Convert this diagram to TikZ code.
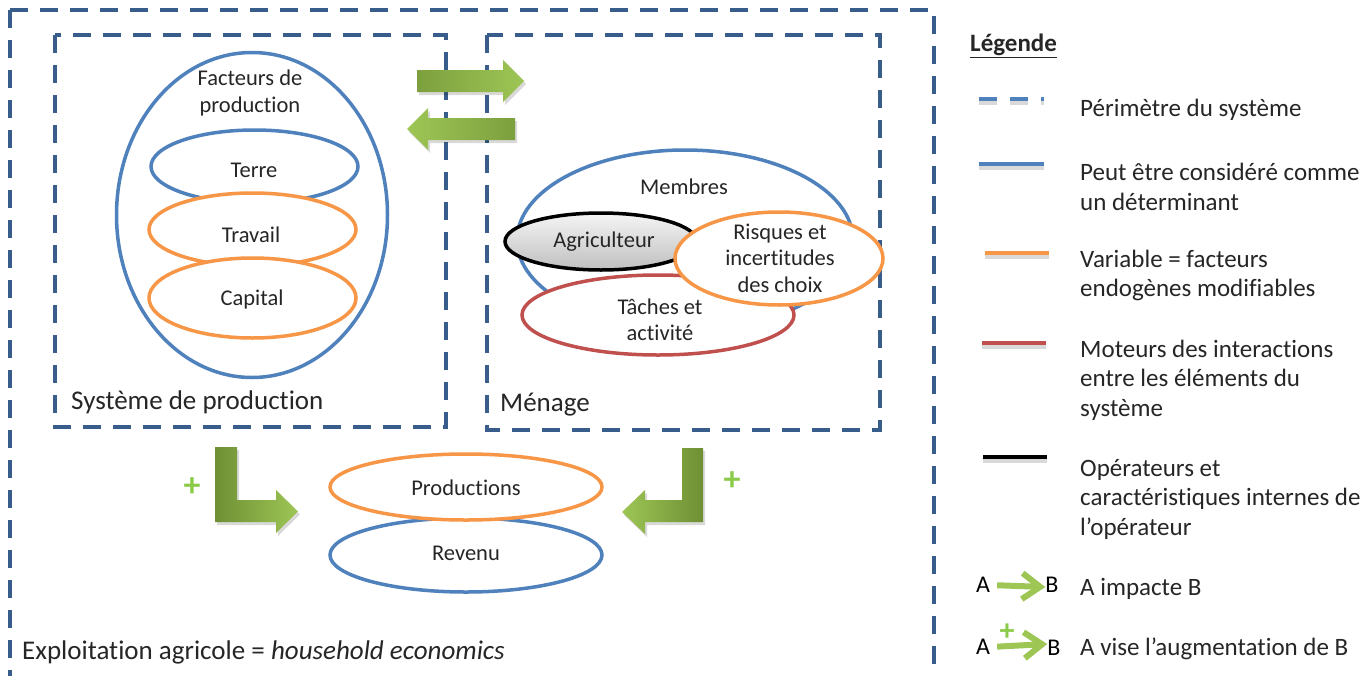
\documentclass[tikz,border=0pt]{standalone}
\usepackage{fontspec}
\setmainfont{Carlito}[Ligatures={NoCommon,NoRare}]
\usetikzlibrary{shapes.geometric,arrows.meta}
\definecolor{boxblue}{HTML}{385D8A}
\definecolor{elblue}{HTML}{4F81BD}
\definecolor{elorange}{HTML}{F79646}
\definecolor{elred}{HTML}{C0504D}
\definecolor{gdark}{HTML}{6F8F34}
\definecolor{glight}{HTML}{9DC655}
\definecolor{gmid}{HTML}{8DB447}
\definecolor{plusgreen}{HTML}{8CCB4A}
\definecolor{txt}{HTML}{262626}
\begin{document}
\begin{tikzpicture}[x=1pt,y=-1pt,
  perim/.style={draw=boxblue, line width=4, dash pattern=on 18pt off 12pt},
  ell/.style={ellipse, line width=3.5, inner sep=0, fill=white},
  blueell/.style={ell, draw=elblue},
  orangeell/.style={ell, draw=elorange},
  redell/.style={ell, draw=elred},
  blackell/.style={ell, draw=black, top color=gray!8, bottom color=gray!50},
  lbl/.style={font=\fontsize{22.5}{26.5}\selectfont, text=txt, align=center, inner sep=0},
  boxlbl/.style={font=\fontsize{27}{32}\selectfont, text=txt, anchor=west, inner sep=0},
  legtxt/.style={font=\fontsize{25}{29.5}\selectfont, text=txt, align=left, anchor=west, inner sep=0},
  legline/.style={line width=4},
  legshadow/.style={line width=4, draw=black, opacity=0.15},
  shadowfill/.style={fill=black, opacity=0.15},
  plussign/.style={font=\fontsize{34}{34}\selectfont\bfseries, text=plusgreen, inner sep=0},
  legarr/.style={draw=glight, line width=6, -{Straight Barb[length=18pt,width=26pt]}},
  letter/.style={font=\fontsize{24}{24}\selectfont, text=black, inner sep=0},
]
\clip (0,0) rectangle (1371,675);
\fill[white] (0,0) rectangle (1371,675);

% perimeters
\draw[perim] (10,10) rectangle (934,700);
\draw[perim] (55,35) rectangle (446,427);
\draw[perim] (487,35) rectangle (880,430);

% production system
\node[blueell, minimum width=271, minimum height=325] (fact) at (252,215) {};
\node[blueell, minimum width=207, minimum height=73] (terre) at (254.5,166.5) {};
\node[orangeell, minimum width=207, minimum height=73] (travail) at (252.5,229.5) {};
\node[orangeell, minimum width=207, minimum height=80] (capital) at (252.5,298) {};
\node[lbl] (tfact) at (250,93) {Facteurs de\\production};
\node[lbl] (tterre) at (254,170) {Terre};
\node[lbl] (ttravail) at (251,235) {Travail};
\node[lbl] (tcapital) at (252,299) {Capital};
\node[boxlbl] (tsys) at (71,402) {Système de production};

% household
\node[blueell, minimum width=336, minimum height=180] (membres) at (685,240) {};
\node[redell, minimum width=272, minimum height=80] (taches) at (658,315) {};
\node[blackell, minimum width=192, minimum height=57] (agri) at (601,241.5) {};
\node[orangeell, minimum width=208, minimum height=93] (risques) at (779,258.5) {};
\node[lbl] (tmembres) at (684,187) {Membres};
\node[lbl] (tagri) at (604,242) {Agriculteur};
\node[lbl] (trisques) at (780,258) {Risques et\\incertitudes\\des choix};
\node[lbl] (ttaches) at (660,320) {Tâches et\\activité};
\node[boxlbl] (tmen) at (500,405) {Ménage};

% outputs
\node[blueell, minimum width=272, minimum height=74] (revenu) at (466,555) {};
\node[orangeell, minimum width=272, minimum height=66] (prod) at (466,487) {};
\node[lbl] (tprod) at (466,488) {Productions};
\node[lbl] (trev) at (466,553) {Revenu};

\node[boxlbl] (texpl) at (22,652) {Exploitation agricole = \textit{household economics}};

% green block arrows
\fill[shadowfill, shift={(2,3)}] (417,70) -- (503,70) -- (503,60) -- (524,81) -- (503,102) -- (503,92) -- (417,92) -- cycle;
\shade[left color=gdark!70!glight, right color=glight] (417,70) -- (503,70) -- (503,60) -- (524,81) -- (503,102) -- (503,92) -- (417,92) -- cycle;
\fill[shadowfill, shift={(2,3)}] (515,118) -- (428,118) -- (428,108) -- (407,129) -- (428,150) -- (428,140) -- (515,140) -- cycle;
\shade[left color=glight, right color=gdark!70!glight] (515,118) -- (428,118) -- (428,108) -- (407,129) -- (428,150) -- (428,140) -- (515,140) -- cycle;

\fill[shadowfill, shift={(2,3)}] (215,447) -- (237,447) -- (237,500) -- (276,500) -- (276,490) -- (298,511.5) -- (276,533) -- (276,522) -- (215,522) -- cycle;
\shade[left color=gdark, right color=glight] (215,447) -- (237,447) -- (237,500) -- (276,500) -- (276,490) -- (298,511.5) -- (276,533) -- (276,522) -- (215,522) -- cycle;
\fill[shadowfill, shift={(2,3)}] (703,448) -- (682,448) -- (682,500) -- (645,500) -- (645,490) -- (622,512) -- (645,534) -- (645,522) -- (703,522) -- cycle;
\shade[left color=glight, right color=gdark] (703,448) -- (682,448) -- (682,500) -- (645,500) -- (645,490) -- (622,512) -- (645,534) -- (645,522) -- (703,522) -- cycle;

\node[plussign] (plus1) at (192,487) {+};
\node[plussign] (plus2) at (732,481) {+};

% legend
\node[legtxt, font=\fontsize{25}{29}\selectfont\bfseries] (leg) at (970,46) {\underline{Légende}};

\draw[legshadow, dash pattern=on 18pt off 13pt] (979,103) -- (1044,103);
\draw[legline, draw=elblue, dash pattern=on 18pt off 13pt] (979,99) -- (1044,99);
\node[legtxt] (l1) at (1080,110) {Périmètre du système};

\draw[legshadow] (979,168) -- (1044,168);
\draw[legline, draw=elblue] (979,164) -- (1044,164);
\node[legtxt] (l2) at (1080,187) {Peut être considéré comme\\un déterminant};

\draw[legshadow] (985,257) -- (1049,257);
\draw[legline, draw=elorange] (985,253) -- (1049,253);
\node[legtxt] (l3) at (1080,275.5) {Variable = facteurs\\endogènes modifiables};

\draw[legshadow] (982,347) -- (1046,347);
\draw[legline, draw=elred] (982,343) -- (1046,343);
\node[legtxt] (l4) at (1080,380) {Moteurs des interactions\\entre les éléments du\\système};

\draw[legshadow] (983,461) -- (1047,461);
\draw[legline, draw=black] (983,457) -- (1047,457);
\node[legtxt] (l5) at (1080,499) {Opérateurs et\\caractéristiques internes de\\l’opérateur};

\node[letter] (la1) at (983,585) {A};
\node[letter] (lb1) at (1052,585) {B};
\draw[legarr, shorten <=7pt] (la1.east) -- ([yshift=-2pt]lb1.west);
\node[legtxt] (l6) at (1080,589) {A impacte B};

\node[letter] (la2) at (983,647) {A};
\node[letter] (lb2) at (1054,648) {B};
\draw[legarr, shorten <=7pt] (la2.east) -- ([yshift=4pt]lb2.west);
\node[plussign, font=\fontsize{30}{30}\selectfont\bfseries] (lp) at (1007,632) {+};
\node[legtxt] (l7) at (1080,649) {A vise l’augmentation de B};
\end{tikzpicture}
\end{document}
